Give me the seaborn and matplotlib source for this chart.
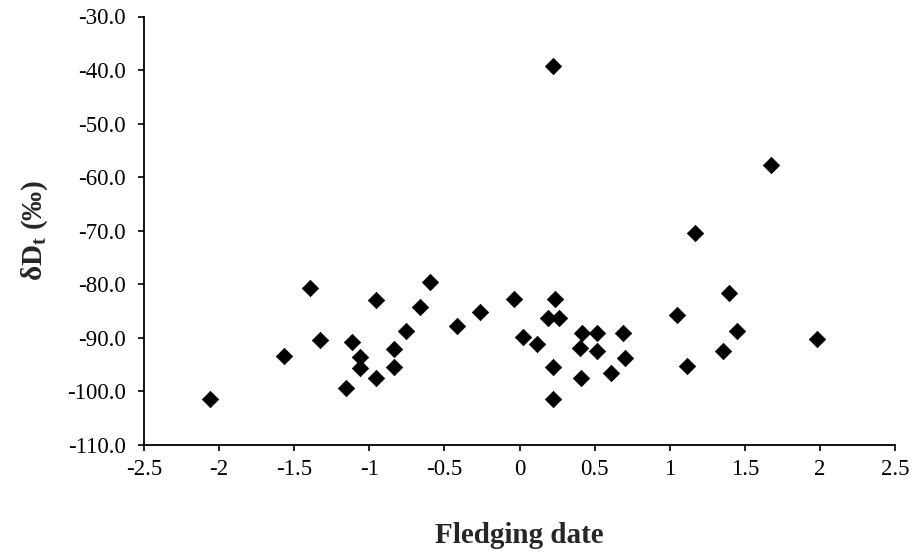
import matplotlib
matplotlib.use("Agg")
import matplotlib.pyplot as plt
import seaborn as sns
import pandas as pd
import numpy as np
from matplotlib.ticker import FuncFormatter

fledging_date = [-2.06, -1.567, -1.396, -1.33, -1.115, -1.062, -1.062, -1.155,
                 -0.955, -0.955, -0.836, -0.836, -0.756, -0.662, -0.596, -0.418,
                 -0.263, -0.035, 0.021, 0.114, 0.234, 0.192, 0.263, 0.221, 0.221,
                 0.418, 0.514, 0.403, 0.514, 0.407, 0.607, 0.687, 0.700, 1.049,
                 1.113, 1.393, 1.446, 1.353, 1.979, 0.221, 1.674, 1.168]
delta_dt = [-101.5, -93.3, -80.6, -90.4, -90.7, -93.6, -95.6, -99.3,
            -82.9, -97.4, -92.1, -95.5, -88.8, -84.3, -79.5, -87.7,
            -85.1, -82.8, -89.9, -91.1, -82.8, -86.2, -86.2, -95.5, -101.5,
            -89.1, -89.1, -91.8, -92.5, -97.4, -96.6, -89.1, -93.7, -85.7,
            -95.2, -81.7, -88.8, -92.5, -90.2, -39.2, -57.8, -70.5]

x_ticks = [-2.5, -2, -1.5, -1, -0.5, 0, 0.5, 1, 1.5, 2, 2.5]
y_ticks = [-110, -100, -90, -80, -70, -60, -50, -40, -30]

df = pd.DataFrame({"Fledging date": fledging_date, "dDt": delta_dt})

sns.set_style("white")
plt.rcParams["font.family"] = ["Liberation Serif", "DejaVu Serif"]
plt.rcParams["mathtext.fontset"] = "custom"
plt.rcParams["mathtext.bf"] = "Liberation Serif:bold"
plt.rcParams["mathtext.rm"] = "Liberation Serif"

fig = plt.figure(figsize=(9.17, 5.59), dpi=100)
ax = fig.add_axes([144/917, 1 - 445/559, (895-144)/917, (445-16.5)/559])

sns.scatterplot(data=df, x="Fledging date", y="dDt", marker="D", color="black",
                s=70, edgecolor="black", linewidth=0.5, ax=ax, legend=False)

ax.set_xlim(-2.5, 2.5)
ax.set_ylim(-110, -30)
ax.set_xticks(x_ticks)
ax.set_yticks(y_ticks)
ax.xaxis.set_major_formatter(FuncFormatter(lambda v, p: f"{v:g}"))
ax.yaxis.set_major_formatter(FuncFormatter(lambda v, p: f"{v:.1f}"))

for s in ["top", "right"]:
    ax.spines[s].set_visible(False)
for s in ["left", "bottom"]:
    ax.spines[s].set_color("black")
    ax.spines[s].set_linewidth(1.3)

ax.tick_params(axis="both", direction="out", length=4, width=1.2, color="black",
               labelsize=16.5, labelcolor="black", bottom=True, left=True)
ax.tick_params(axis="x", pad=6)
ax.tick_params(axis="y", pad=9)

ax.set_xlabel("Fledging date", fontsize=21, fontweight="bold", labelpad=30)
ax.set_ylabel(r"δD$_\mathbf{t}$ (‰)", fontsize=21, fontweight="bold", labelpad=12)

fig.savefig("out.png", dpi=100)
